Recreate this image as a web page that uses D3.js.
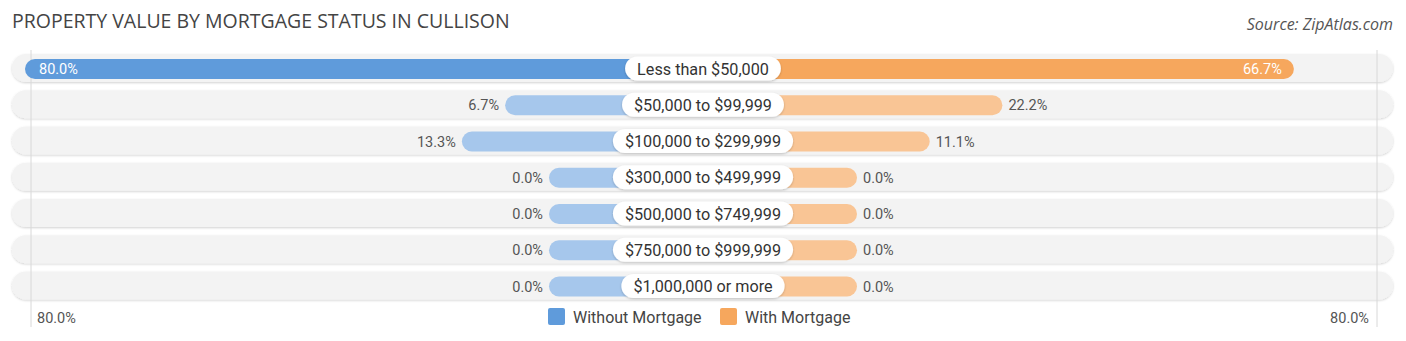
<!DOCTYPE html>
<html>
<head>
<meta charset="utf-8">
<script src="https://cdn.jsdelivr.net/npm/d3@7"></script>
<style>
  html, body { margin: 0; padding: 0; background: #fff; }
  svg { display: block; }
</style>
</head>
<body>
<svg id="chart" width="1406" height="341"></svg>
<script>
// Property value brackets and the share of homes in each, split by mortgage status
const categories = [
  "Less than $50,000",
  "$50,000 to $99,999",
  "$100,000 to $299,999",
  "$300,000 to $499,999",
  "$500,000 to $749,999",
  "$750,000 to $999,999",
  "$1,000,000 or more"
];
const withoutMortgage = [80.0, 6.7, 13.3, 0.0, 0.0, 0.0, 0.0];
const withMortgage = [66.7, 22.2, 11.1, 0.0, 0.0, 0.0, 0.0];
const seriesNames = ["Without Mortgage", "With Mortgage"];
const axisMax = 80;
const axisLabels = ["80.0%", "80.0%"];

const svg = d3.select("#chart");
const font = "Roboto, 'Noto Sans', Arial, sans-serif";

const cx = 703;          // centre line where the two sides meet
const stub = 154;        // minimum half-bar length drawn under the label pill
const x = d3.scaleLinear().domain([0, axisMax]).range([0, 524]);
const y = d3.scalePoint().domain(categories).range([68, 285.5]);

const colors = {
  left:  { strong: "#5f9bdb", light: "#a6c7ec" },
  right: { strong: "#f6a75d", light: "#f9c595" }
};

// Title and source
svg.append("text")
  .attr("x", 12).attr("y", 28)
  .attr("font-family", "'Open Sans', " + font)
  .attr("font-size", 19.5)
  .attr("fill", "#444")
  .text("PROPERTY VALUE BY MORTGAGE STATUS IN CULLISON");

svg.append("text")
  .attr("x", 1393).attr("y", 30)
  .attr("text-anchor", "end")
  .attr("font-family", "'Open Sans', " + font)
  .attr("font-style", "italic")
  .attr("font-size", 16)
  .attr("fill", "#555")
  .text("Source: ZipAtlas.com");

const defs = svg.append("defs");
const shadow = defs.append("filter").attr("id", "rowShadow")
  .attr("x", "-5%").attr("y", "-30%").attr("width", "110%").attr("height", "160%");
shadow.append("feDropShadow").attr("dx", 0).attr("dy", 1)
  .attr("stdDeviation", 1).attr("flood-color", "#000").attr("flood-opacity", 0.18);

const pillShadow = defs.append("filter").attr("id", "pillShadow")
  .attr("x", "-10%").attr("y", "-30%").attr("width", "120%").attr("height", "170%");
pillShadow.append("feDropShadow").attr("dx", 0).attr("dy", 1)
  .attr("stdDeviation", 1.2).attr("flood-color", "#000").attr("flood-opacity", 0.22);

// Row backgrounds
const rowH = 28;
svg.append("g").selectAll("rect")
  .data(categories)
  .join("rect")
  .attr("x", 12)
  .attr("y", d => y(d) - rowH / 2)
  .attr("width", 1393 - 12)
  .attr("height", rowH)
  .attr("rx", rowH / 2)
  .attr("fill", "#f3f3f3")
  .attr("filter", "url(#rowShadow)");

// Faint guide lines at the axis extremes
svg.append("g").selectAll("line")
  .data([cx - x(axisMax) - stub + 6, cx + x(axisMax) + stub - 4])
  .join("line")
  .attr("x1", d => d).attr("x2", d => d)
  .attr("y1", 50).attr("y2", 327)
  .attr("stroke", "#d8d8d8")
  .attr("stroke-width", 1);

const barH = 20;
const rows = categories.map((c, i) => ({
  cat: c, left: withoutMortgage[i], right: withMortgage[i], i
}));

// Without-mortgage bars grow leftwards from the centre
svg.append("g").selectAll("rect")
  .data(rows)
  .join("rect")
  .attr("x", d => cx - stub - x(d.left))
  .attr("y", d => y(d.cat) - barH / 2 + 1)
  .attr("width", d => stub + x(d.left) + 12)
  .attr("height", barH)
  .attr("rx", barH / 2)
  .attr("fill", d => d.i === 0 ? colors.left.strong : colors.left.light);

// With-mortgage bars grow rightwards from the centre
svg.append("g").selectAll("rect")
  .data(rows)
  .join("rect")
  .attr("x", cx - 12)
  .attr("y", d => y(d.cat) - barH / 2 + 1)
  .attr("width", d => stub + x(d.right) + 12)
  .attr("height", barH)
  .attr("rx", barH / 2)
  .attr("fill", d => d.i === 0 ? colors.right.strong : colors.right.light);

// Value labels: inside the bar when it is long, beside it otherwise
const fmt = v => v.toFixed(1) + "%";
const labelG = svg.append("g").attr("font-family", font).attr("font-size", 14.5);

rows.forEach(d => {
  const yy = y(d.cat) + 6;
  const leftEnd = cx - stub - x(d.left);
  const rightEnd = cx + stub + x(d.right);
  const leftInside = d.left > 40;
  const rightInside = d.right > 40;
  labelG.append("text")
    .attr("x", leftInside ? leftEnd + 14 : leftEnd - 6)
    .attr("y", yy)
    .attr("text-anchor", leftInside ? "start" : "end")
    .attr("fill", leftInside ? "#fff" : "#555")
    .text(fmt(d.left));
  labelG.append("text")
    .attr("x", rightInside ? rightEnd - 12 : rightEnd + 6)
    .attr("y", yy)
    .attr("text-anchor", rightInside ? "end" : "start")
    .attr("fill", rightInside ? "#fff" : "#555")
    .text(fmt(d.right));
});

// Category pills in the middle
const pillG = svg.append("g");
rows.forEach(d => {
  const g = pillG.append("g");
  const t = g.append("text")
    .attr("x", cx)
    .attr("y", y(d.cat) + 6.5)
    .attr("text-anchor", "middle")
    .attr("font-family", font)
    .attr("font-size", 16.2)
    .attr("fill", "#333")
    .text(d.cat);
  const tw = t.node().getComputedTextLength();
  const pw = tw + 24;
  g.insert("rect", "text")
    .attr("x", cx - pw / 2)
    .attr("y", y(d.cat) - 11.5)
    .attr("width", pw)
    .attr("height", 24)
    .attr("rx", 12)
    .attr("fill", "#fff")
    .attr("filter", "url(#pillShadow)");
});

// Axis end labels
svg.append("text")
  .attr("x", 37).attr("y", 323)
  .attr("font-family", font).attr("font-size", 14.5).attr("fill", "#555")
  .text(axisLabels[0]);
svg.append("text")
  .attr("x", 1369).attr("y", 323)
  .attr("text-anchor", "end")
  .attr("font-family", font).attr("font-size", 14.5).attr("fill", "#555")
  .text(axisLabels[1]);

// Legend
const legend = svg.append("g").attr("font-family", font).attr("font-size", 16).attr("fill", "#444");
const legendItems = [
  { name: seriesNames[0], color: colors.left.strong, x: 548 },
  { name: seriesNames[1], color: colors.right.strong, x: 720 }
];
legendItems.forEach(it => {
  legend.append("rect")
    .attr("x", it.x).attr("y", 308)
    .attr("width", 17).attr("height", 17)
    .attr("rx", 2)
    .attr("fill", it.color);
  legend.append("text")
    .attr("x", it.x + 25).attr("y", 323)
    .text(it.name);
});
</script>
</body>
</html>
